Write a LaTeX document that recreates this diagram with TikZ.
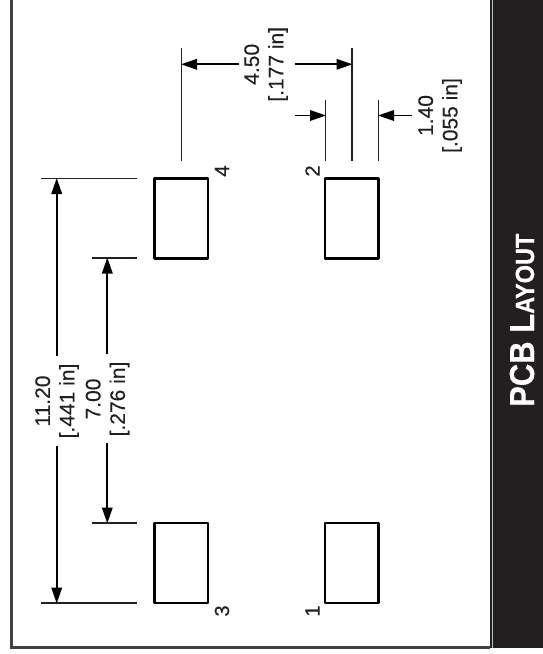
\documentclass[tikz,border=0pt]{standalone}
\usepackage{fontspec}
\setmainfont{Liberation Sans}
\newfontfamily\dimfont[FakeBold=0.25]{Liberation Sans}
\newfontfamily\titlefont[BoldFeatures={FakeBold=0.5}]{Liberation Sans}
\usetikzlibrary{arrows.meta}
\definecolor{panel}{HTML}{231F20}
\tikzset{
  x=1pt,y=-1pt,
  pad/.style={draw=black,line width=2.6pt,fill=white,minimum width=53.5pt,minimum height=80pt,inner sep=0pt,outer sep=0pt,line join=round},
  extline/.style={draw=panel,line width=1.8pt},
  dimline/.style={draw=black,line width=1.8pt,-{Triangle[length=16pt,width=10.5pt]},shorten >=-0.5pt},
  dimtext/.style={rotate=90,align=center,font=\fontsize{21}{24.5}\dimfont,text=panel,inner sep=0pt},
  pinlabel/.style={rotate=90,font=\fontsize{20.5}{22}\dimfont,text=panel,inner sep=0pt},
  frameline/.style={draw=panel!85!white,line width=2.4pt},
  titletext/.style={rotate=90,text=white,inner sep=0pt,font=\fontsize{31}{34}\titlefont\bfseries}
}
\begin{document}
\begin{tikzpicture}
\useasboundingbox (0,0) rectangle (543,654);
% title panel
\fill[panel] (490,0) rectangle (543,648);
\draw[white!75!black,line width=1.1pt] (492.5,0) -- (492.5,648);
\coordinate (frameTL) at (11.5,0);
\coordinate (frameBL) at (11.5,647.5);
\coordinate (frameBR) at (490,647.5);
\draw[frameline] (frameTL) -- (frameBL) -- (frameBR);
% pads
\node[pad] (pad4) at (181.3,218.5) {};
\node[pad] (pad3) at (181.3,563) {};
\node[pad] (pad2) at (351.7,218.5) {};
\node[pad] (pad1) at (351.7,563) {};
% pin labels
\node[pinlabel] (pin4) at (222,171) {4};
\node[pinlabel] (pin2) at (312.5,171) {2};
\node[pinlabel] (pin3) at (222,611) {3};
\node[pinlabel] (pin1) at (312.5,611) {1};
% horizontal extension lines
\coordinate (e1a) at (41,178.5);  \coordinate (e1b) at (137,178.5);
\coordinate (e2a) at (91.5,258);  \coordinate (e2b) at (137,258);
\coordinate (e3a) at (91.5,523);  \coordinate (e3b) at (137,523);
\coordinate (e4a) at (41,603);    \coordinate (e4b) at (137,603);
\draw[extline] (e1a) -- (e1b);
\draw[extline] (e2a) -- (e2b);
\draw[extline] (e3a) -- (e3b);
\draw[extline] (e4a) -- (e4b);
% vertical extension lines
\coordinate (v1a) at (181.5,48);  \coordinate (v1b) at (181.5,161);
\coordinate (v2a) at (352,48);    \coordinate (v2b) at (352,161);
\coordinate (v3a) at (325.5,100); \coordinate (v3b) at (325.5,161);
\coordinate (v4a) at (378.5,100); \coordinate (v4b) at (378.5,161);
\draw[extline] (v1a) -- (v1b);
\draw[extline] (v2a) -- (v2b);
\draw[extline] (v3a) -- (v3b);
\draw[extline] (v4a) -- (v4b);
% dimension texts
\node[dimtext] (d1120) at (57,401) {11.20\\{}[.441 in]};
\node[dimtext] (d700) at (107.5,399) {7.00\\{}[.276 in]};
\node[dimtext] (d450) at (266,64.3) {4.50\\{}[.177 in]};
\node[dimtext] (d140) at (440,115.5) {1.40\\{}[.055 in]};
% arrow endpoints
\coordinate (a1t) at (56.7,178.5); \coordinate (a1s) at (56.7,356);
\coordinate (a1u) at (56.7,446);   \coordinate (a1b) at (56.7,603);
\coordinate (a2t) at (107.3,258);  \coordinate (a2s) at (107.3,354);
\coordinate (a2u) at (107.3,443);  \coordinate (a2b) at (107.3,523);
\coordinate (a3l) at (181.5,64.3); \coordinate (a3s) at (239,64.3);
\coordinate (a3u) at (294.7,64.3); \coordinate (a3r) at (352,64.3);
\coordinate (a4s) at (294.5,115.5);\coordinate (a4l) at (325.5,115.5);
\coordinate (a4u) at (411.5,115.5);\coordinate (a4r) at (378.5,115.5);
\draw[dimline] (a1s) -- (a1t);
\draw[dimline] (a1u) -- (a1b);
\draw[dimline] (a2s) -- (a2t);
\draw[dimline] (a2u) -- (a2b);
\draw[dimline] (a3s) -- (a3l);
\draw[dimline] (a3u) -- (a3r);
\draw[dimline] (a4s) -- (a4l);
\draw[dimline] (a4u) -- (a4r);
% title
\node[titletext,anchor=base west] (title) at (534,407) {\scalebox{1}[1.12]{PCB L{\fontsize{23.5}{24}\selectfont AYOUT}}};
\end{tikzpicture}
\end{document}
